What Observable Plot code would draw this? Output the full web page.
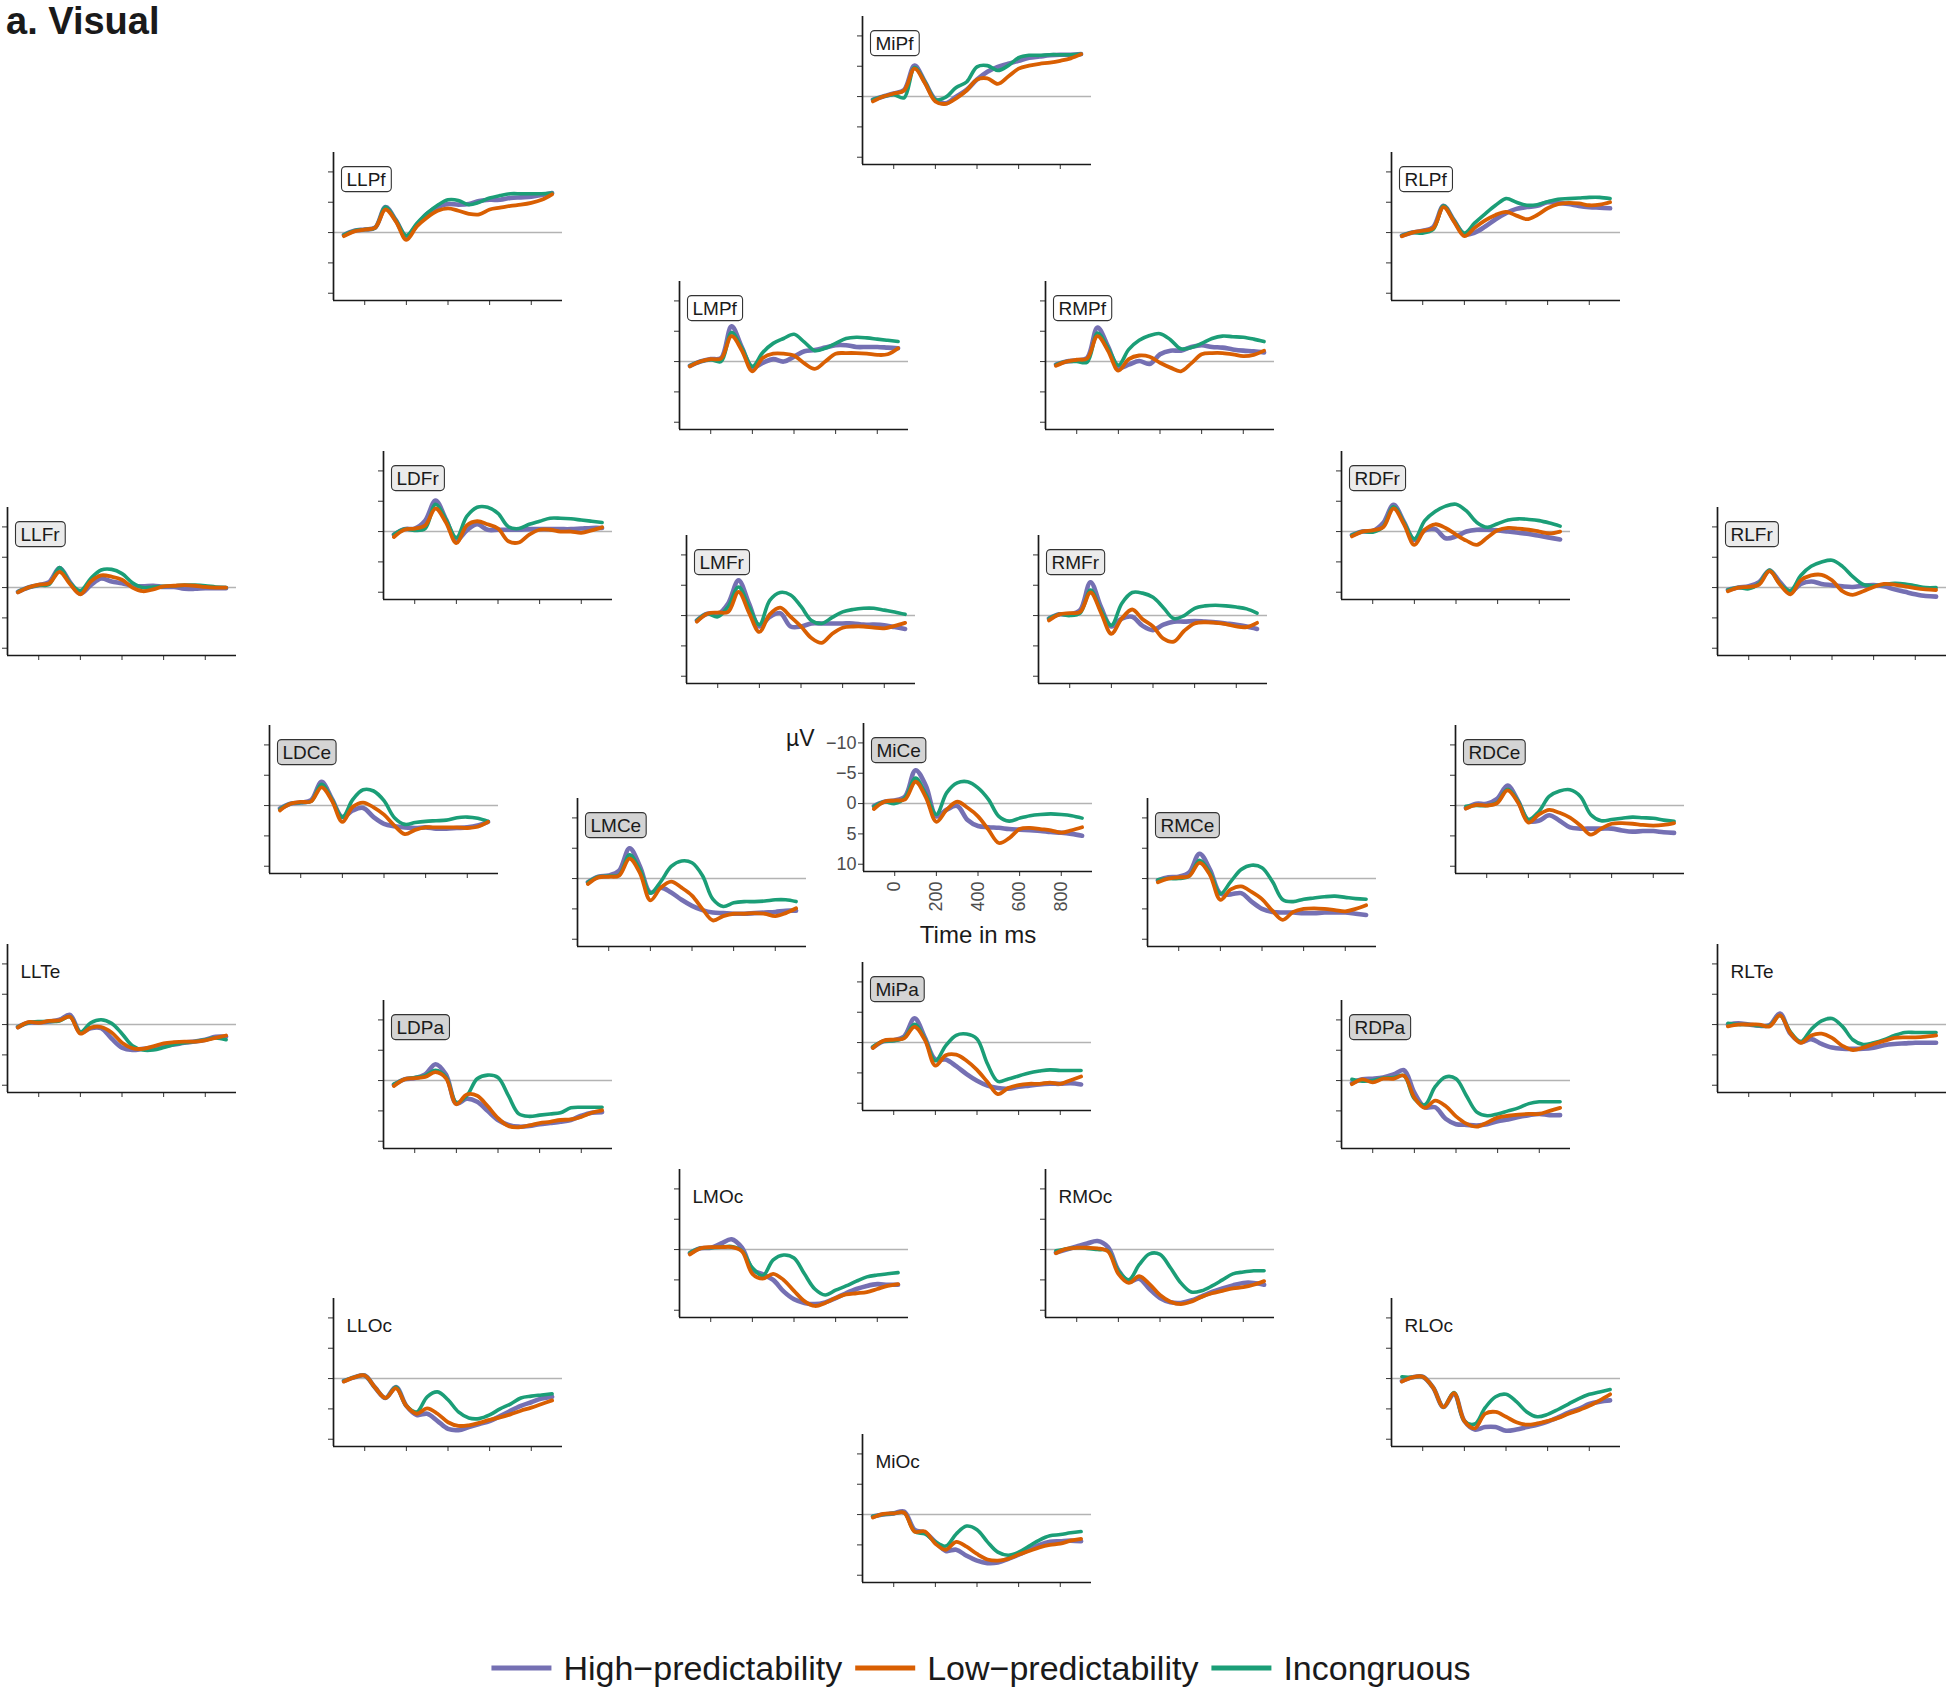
<!DOCTYPE html>
<html>
<head>
<meta charset="utf-8">
<script src="https://cdn.jsdelivr.net/npm/d3@7"></script>
<script src="https://cdn.jsdelivr.net/npm/@observablehq/plot@0.6"></script>
<style>
  html, body { margin: 0; padding: 0; background: #fff; }
  #root { position: relative; width: 1950px; height: 1690px; overflow: hidden; font-family: "Liberation Sans", Arial, Helvetica, sans-serif; }
  .panel { position: absolute; }
  .panel svg { overflow: visible; background: none; max-width: none; }
  #overlay { position: absolute; left: 0; top: 0; }
</style>
</head>
<body>
<div id="root"></div>
<script>
// ---------------- data ----------------
const times = [-100, -50, 0, 50, 100, 150, 200, 250, 300, 350, 400, 450, 500, 550, 600, 650, 700, 750, 800, 850, 900];
const conditions = ["High\u2212predictability", "Low\u2212predictability", "Incongruous"];
const colors = ["#7570B3", "#D95F02", "#1B9E77"];
const yTicks = [-10, -5, 0, 5, 10];
const xTicks = [0, 200, 400, 600, 800];
const titleText = "a. Visual";

// each electrode: [High, Low, Incongruous] in µV at the times above
const MiPf = [
  [0.5, 0, -0.5, -1.1, -5.1, -2.4, 0.5, 1.1, 0, -1.1, -2.8, -4.1, -4.9, -5.4, -5.9, -6.4, -6.6, -6.8, -6.9, -6.9, -7.0],
  [0.8, 0, -0.5, -1.0, -4.6, -2.2, 0.8, 1.2, 0.3, -1.0, -2.8, -3.0, -2.1, -3.3, -4.6, -5.1, -5.4, -5.6, -5.9, -6.3, -7.0],
  [0.5, 0, -0.3, 0.2, -4.8, -2.4, 0.5, 0.1, -1.5, -2.4, -4.9, -5.1, -4.3, -5.1, -6.4, -6.8, -6.8, -6.9, -6.9, -6.9, -7.0]];
const LLPf = [
  [0.4, -0.3, -0.5, -0.8, -4.2, -2.0, 0.7, -1.2, -3.1, -4.2, -4.7, -4.6, -4.7, -5.2, -5.4, -5.4, -5.7, -5.8, -5.9, -6.2, -6.5],
  [0.6, -0.2, -0.5, -0.8, -3.8, -1.8, 1.2, -1.0, -2.5, -3.6, -4.0, -3.6, -3.1, -3.0, -3.8, -4.1, -4.4, -4.6, -4.9, -5.4, -6.3],
  [0.4, -0.3, -0.5, -0.8, -4.2, -2.0, 0.5, -1.5, -3.2, -4.5, -5.4, -5.3, -4.6, -5.0, -5.7, -6.1, -6.4, -6.4, -6.4, -6.4, -6.5]];
const RLPf = [
  [0.5, 0, -0.3, -0.9, -4.4, -2.0, 0.3, 0, -1.0, -2.2, -3.2, -3.9, -4.2, -4.4, -5.0, -4.9, -4.7, -4.4, -4.2, -4.1, -4.0],
  [0.6, 0, -0.3, -0.7, -4.2, -1.8, 0.6, -0.8, -2.0, -2.9, -3.4, -2.8, -2.2, -2.9, -4.0, -4.7, -4.9, -4.8, -4.5, -4.6, -5.0],
  [0.5, 0, 0.1, -0.5, -4.4, -2.0, 0.1, -1.6, -3.1, -4.5, -5.6, -5.0, -4.5, -4.6, -5.1, -5.5, -5.6, -5.7, -5.8, -5.8, -5.6]];
const LMPf = [
  [0.7, 0, -0.4, -0.6, -5.8, -2.3, 1.0, 0.2, -0.4, 0, -0.8, -1.7, -1.9, -2.3, -2.7, -2.7, -2.4, -2.4, -2.4, -2.3, -2.2],
  [0.8, 0, -0.4, -0.5, -4.2, -1.8, 1.6, -0.6, -1.3, -1.3, -1.0, 0.3, 1.2, 0, -1.3, -1.4, -1.4, -1.3, -1.1, -1.2, -2.2],
  [0.7, 0, -0.3, 0, -4.8, -2.2, 0.8, -1.5, -3.0, -3.8, -4.5, -3.2, -1.8, -2.2, -3.0, -3.8, -4.0, -3.9, -3.7, -3.5, -3.3]];
const RMPf = [
  [0.5, 0, -0.2, -0.6, -5.6, -2.5, 1.0, 0.5, -0.1, 0.4, -1.2, -1.8, -1.8, -2.4, -2.7, -2.4, -2.3, -2.0, -1.8, -1.7, -1.5],
  [0.7, 0, -0.3, -0.5, -4.2, -1.8, 1.5, -0.4, -1.0, -0.8, 0.2, 1.0, 1.6, 0.3, -1.2, -1.4, -1.4, -1.2, -0.9, -1.1, -1.8],
  [0.5, 0, 0, 0.1, -4.7, -2.3, 0.6, -2.0, -3.5, -4.3, -4.6, -3.6, -2.1, -2.3, -3.0, -3.8, -4.2, -4.1, -4.0, -3.7, -3.3]];
const LDFr = [
  [0.5, -0.4, -0.5, -1.8, -5.1, -2.0, 1.4, -0.2, -1.2, -0.3, -0.3, -0.3, -0.3, -0.4, -0.4, -0.4, -0.4, -0.4, -0.5, -0.6, -0.6],
  [0.9, -0.3, -0.5, -1.0, -3.8, -1.5, 1.9, -1.0, -1.7, -1.2, -0.5, 1.6, 1.8, 0.5, -0.3, -0.3, 0, 0, 0.2, -0.2, -0.7],
  [0.5, -0.4, -0.2, -0.5, -4.5, -2.0, 1.0, -2.5, -4.0, -4.0, -3.0, -0.8, -0.5, -1.2, -1.7, -2.2, -2.2, -2.1, -1.9, -1.7, -1.5]];
const RDFr = [
  [0.6, 0, -0.1, -1.4, -4.4, -1.6, 1.4, -0.2, -0.4, 1.1, 0.8, 0, -0.3, -0.3, -0.2, 0, 0.2, 0.4, 0.7, 1.0, 1.3],
  [0.8, 0, -0.2, -0.7, -3.8, -1.2, 2.2, -0.3, -1.2, -0.6, 0.5, 1.5, 2.2, 1.0, -0.2, -0.6, -0.5, -0.3, 0, 0.3, 0],
  [0.6, 0, 0.1, -0.8, -4.1, -1.5, 1.2, -1.8, -3.3, -4.2, -4.5, -3.4, -1.5, -0.7, -1.3, -1.9, -2.1, -2.0, -1.8, -1.4, -0.9]];
const LLFr = [
  [0.7, 0, -0.4, -0.9, -3.2, -0.9, 1.0, -0.4, -1.5, -1.0, -0.7, -0.3, -0.2, -0.3, -0.1, -0.1, 0.2, 0.2, 0.1, 0.1, 0.1],
  [0.8, 0, -0.5, -0.7, -2.6, -0.6, 1.1, -1.0, -2.0, -1.8, -1.3, 0, 0.6, 0.3, -0.2, -0.3, -0.4, -0.3, -0.1, 0, 0],
  [0.7, 0, -0.4, -0.5, -3.3, -0.8, 0.5, -1.5, -2.9, -3.0, -2.3, -0.8, 0, -0.1, -0.2, -0.3, -0.4, -0.4, -0.3, -0.1, 0]];
const RLFr = [
  [0.4, 0, -0.2, -0.9, -2.8, -0.9, 0.7, -0.6, -1.0, -0.6, -0.4, -0.2, -0.1, -0.3, -0.4, -0.2, 0.3, 0.7, 1.1, 1.4, 1.5],
  [0.6, 0, -0.1, -0.5, -2.7, -0.5, 1.1, -1.2, -2.0, -2.1, -1.2, 0.6, 1.2, 0.6, -0.1, -0.6, -0.5, -0.2, 0.1, 0.3, 0.4],
  [0.4, 0, 0.2, -0.7, -2.9, -0.6, 0.5, -2.0, -3.5, -4.2, -4.5, -3.5, -1.8, -0.5, -0.3, -0.5, -0.7, -0.6, -0.3, 0, 0]];
const LMFr = [
  [0.8, -0.3, -0.2, -2.0, -5.8, -2.0, 1.8, 0.2, -0.4, 1.8, 1.8, 1.3, 1.3, 1.3, 1.3, 1.3, 1.5, 1.5, 1.6, 1.9, 2.2],
  [1.0, -0.3, -0.5, -0.6, -3.9, -0.5, 2.7, -0.2, -1.3, 0.2, 1.8, 3.7, 4.5, 3.0, 2.0, 1.8, 1.8, 2.0, 2.1, 1.7, 1.2],
  [0.8, -0.3, 0.2, -1.5, -4.7, -1.5, 1.5, -2.5, -3.8, -3.4, -1.5, 0.8, 1.3, 0.3, -0.6, -1.0, -1.2, -1.2, -0.9, -0.6, -0.2]];
const RMFr = [
  [0.5, -0.2, -0.2, -0.9, -5.5, -1.4, 1.8, 0.5, 0.2, 1.7, 2.4, 1.5, 1.0, 1.0, 0.9, 1.0, 1.1, 1.3, 1.5, 1.8, 2.2],
  [0.8, -0.2, -0.4, -0.6, -3.8, -0.5, 3.0, 0.5, -1.0, 0.6, 1.8, 3.8, 4.3, 2.5, 1.3, 1.1, 1.2, 1.4, 1.8, 1.9, 1.2],
  [0.5, -0.2, 0, -0.4, -4.2, -0.9, 1.6, -2.0, -3.8, -3.7, -3.0, -1.3, 0.5, 0, -1.2, -1.6, -1.7, -1.6, -1.4, -1.1, -0.4]];
const LDCe = [
  [0.5, -0.3, -0.5, -0.9, -3.9, -1.1, 1.9, 0.8, 0.4, 1.9, 3.0, 3.4, 3.6, 3.7, 3.6, 3.8, 3.8, 3.7, 3.6, 3.3, 2.7],
  [0.8, -0.3, -0.6, -0.7, -3.0, -0.8, 2.7, 0.2, -0.5, 0.3, 1.5, 3.3, 4.7, 4.0, 3.6, 3.6, 3.6, 3.6, 3.7, 3.5, 2.7],
  [0.6, -0.3, -0.5, -0.7, -3.5, -1.0, 1.9, -1.0, -2.6, -2.4, -0.8, 2.0, 3.1, 2.8, 2.6, 2.5, 2.4, 2.0, 1.9, 2.1, 2.6]];
const RDCe = [
  [0.4, -0.3, -0.3, -1.1, -3.3, -0.8, 2.5, 2.5, 1.6, 2.5, 3.6, 3.8, 3.8, 3.8, 3.8, 4.1, 4.3, 4.2, 4.2, 4.4, 4.5],
  [0.5, -0.1, 0, -0.4, -2.5, -0.5, 2.8, 1.5, 0.7, 1.2, 2.0, 3.3, 4.8, 3.8, 3.0, 2.9, 3.0, 3.2, 3.3, 3.2, 2.9],
  [0.1, 0, 0, -0.5, -2.7, -0.8, 2.3, 1.0, -1.5, -2.4, -2.6, -1.5, 1.5, 2.5, 2.3, 2.1, 1.9, 2.0, 2.1, 2.4, 2.6]];
const LMCe = [
  [0.6, -0.3, -0.5, -1.3, -5.0, -2.0, 2.3, 1.5, 2.3, 3.5, 4.5, 5.2, 5.6, 5.7, 5.8, 5.8, 5.7, 5.6, 5.5, 5.3, 5.3],
  [0.9, -0.2, -0.3, -0.5, -3.3, -0.9, 3.6, 1.5, 0.5, 1.5, 2.8, 5.0, 6.9, 6.2, 5.8, 5.8, 5.7, 5.8, 6.2, 5.7, 4.9],
  [0.6, -0.3, -0.4, -0.6, -3.9, -1.5, 2.4, 0.5, -2.0, -2.9, -2.6, -0.5, 3.4, 4.6, 4.0, 3.8, 3.8, 3.7, 3.5, 3.5, 3.8]];
const RMCe = [
  [0.3, -0.2, -0.3, -1.0, -4.1, -1.5, 2.5, 2.6, 2.4, 3.8, 5.0, 5.5, 5.6, 5.6, 5.7, 5.7, 5.6, 5.6, 5.6, 5.8, 6.0],
  [0.6, 0, -0.2, -0.4, -2.6, -0.6, 3.5, 1.8, 1.3, 2.2, 3.4, 5.3, 6.8, 5.5, 5.0, 4.9, 5.0, 5.2, 5.4, 5.0, 4.4],
  [0.2, 0, 0, -0.4, -3.0, -1.0, 2.5, 0.5, -1.5, -2.2, -1.8, 0.5, 3.5, 3.8, 3.4, 3.2, 3.0, 2.9, 3.1, 3.3, 3.4]];
const MiCe = [
  [0.4, -0.3, -0.5, -1.2, -5.5, -2.9, 2.1, 1.0, 0.4, 2.7, 3.7, 3.9, 4.0, 4.2, 4.3, 4.4, 4.5, 4.7, 4.8, 5.0, 5.3],
  [0.9, -0.3, -0.5, -0.7, -3.6, -1.0, 3.0, 1.0, -0.3, 0.7, 2.1, 4.3, 6.5, 5.7, 4.2, 4.0, 4.2, 4.4, 4.8, 4.4, 3.9],
  [0.5, -0.3, 0, -1.0, -4.2, -1.5, 1.8, -1.8, -3.4, -3.6, -2.6, -0.7, 2.1, 2.9, 2.4, 2.0, 1.8, 1.7, 1.8, 2.0, 2.4]];
const LLTe = [
  [0.4, -0.3, -0.3, -0.5, -0.8, -1.6, 1.3, 0.6, 0.6, 2.3, 3.8, 4.2, 4.0, 3.8, 3.5, 3.3, 3.0, 2.8, 2.5, 2.0, 2.0],
  [0.5, -0.4, -0.3, -0.6, -0.7, -1.3, 1.5, 0.5, 0.4, 1.3, 3.0, 3.9, 4.0, 3.6, 3.1, 2.9, 2.8, 2.8, 2.6, 2.2, 1.8],
  [0.4, -0.3, -0.5, -0.5, -0.6, -1.3, 1.2, -0.3, -0.8, -0.2, 1.5, 3.5, 4.2, 4.2, 3.8, 3.3, 3.0, 2.8, 2.5, 2.2, 2.5]];
const RLTe = [
  [0, -0.2, 0, 0.2, 0.1, -1.8, 1.5, 2.9, 2.4, 3.2, 3.8, 4.0, 4.0, 4.0, 3.8, 3.4, 3.2, 3.1, 3.0, 3.0, 3.0],
  [0.3, 0, 0, 0, 0.3, -1.5, 1.4, 3.0, 1.8, 1.5, 2.2, 3.5, 4.2, 3.8, 3.2, 2.7, 2.2, 2.1, 2.1, 2.0, 1.8],
  [-0.2, 0, 0, 0.2, 0.2, -1.5, 1.2, 2.8, 0.8, -0.6, -1.0, 0.3, 2.5, 3.3, 3.0, 2.5, 1.8, 1.3, 1.3, 1.3, 1.3]];
const LDPa = [
  [0.7, -0.2, -0.4, -1.0, -2.7, -1.0, 3.8, 3.0, 3.5, 5.0, 6.5, 7.3, 7.6, 7.5, 7.2, 7.0, 6.8, 6.5, 5.8, 5.3, 5.2],
  [0.9, -0.2, -0.4, -0.6, -1.4, -0.4, 3.9, 2.3, 2.5, 4.2, 6.2, 7.5, 7.7, 7.4, 7.0, 6.8, 6.5, 6.4, 6.0, 5.3, 4.9],
  [0.6, -0.2, -0.5, -0.8, -1.7, -0.6, 3.6, 2.5, -0.3, -0.9, -0.5, 2.5, 5.5, 5.9, 5.7, 5.5, 5.3, 4.5, 4.4, 4.4, 4.4]];
const RDPa = [
  [0.4, -0.2, -0.3, -0.5, -1.0, -1.7, 2.0, 4.4, 4.4, 6.3, 7.2, 7.3, 7.4, 7.2, 6.7, 6.4, 6.0, 5.7, 5.5, 5.7, 5.7],
  [0.6, -0.2, 0.3, -0.3, -0.3, -0.8, 2.8, 4.5, 3.3, 4.2, 5.9, 7.1, 7.6, 6.9, 6.1, 5.8, 5.6, 5.5, 5.5, 5.0, 4.5],
  [-0.2, 0.1, 0, -0.4, -0.5, -0.8, 3.0, 4.0, 1.0, -0.6, -0.3, 2.5, 5.2, 5.8, 5.5, 5.0, 4.5, 3.8, 3.5, 3.5, 3.5]];
const MiPa = [
  [0.8, -0.2, -0.4, -1.0, -4.0, -0.8, 2.8, 2.8, 3.9, 5.2, 6.3, 7.1, 7.5, 7.6, 7.3, 7.1, 6.9, 6.8, 6.8, 6.7, 6.9],
  [0.9, -0.3, -0.5, -0.7, -2.6, -0.4, 3.8, 2.1, 2.0, 3.0, 4.5, 6.5, 8.5, 7.5, 7.0, 6.8, 6.8, 6.6, 6.8, 6.2, 5.6],
  [0.7, -0.2, -0.3, -0.8, -3.0, -0.6, 3.0, 0.5, -1.2, -1.4, -0.6, 3.5, 6.4, 6.0, 5.5, 5.0, 4.7, 4.5, 4.6, 4.6, 4.6]];
const LMOc = [
  [0.6, -0.2, -0.3, -1.0, -1.7, -0.3, 3.3, 4.1, 5.0, 6.9, 8.2, 8.8, 9.0, 8.7, 8.0, 7.2, 6.5, 6.0, 5.7, 5.8, 5.8],
  [0.8, -0.2, -0.4, -0.4, -0.4, 0.3, 4.0, 4.8, 4.0, 5.0, 6.8, 8.5, 9.3, 8.8, 8.0, 7.4, 7.2, 7.0, 6.5, 6.0, 5.7],
  [0.5, -0.2, -0.3, -0.4, -0.5, 0.2, 3.0, 4.3, 1.7, 0.9, 1.4, 4.0, 6.5, 7.5, 6.7, 6.0, 5.2, 4.5, 4.2, 4.0, 3.8]];
const RMOc = [
  [0.5, 0, -0.5, -1.0, -1.4, -0.4, 3.4, 5.3, 4.8, 6.5, 8.0, 8.7, 8.8, 8.4, 7.7, 7.0, 6.4, 5.9, 5.5, 5.5, 5.8],
  [0.6, -0.1, -0.3, -0.3, -0.2, 0.3, 4.0, 5.5, 4.4, 5.7, 7.5, 8.6, 9.0, 8.6, 7.8, 7.2, 6.8, 6.4, 6.2, 5.8, 5.2],
  [0.2, -0.1, -0.3, -0.2, 0, 0.2, 3.5, 5.0, 2.5, 0.7, 0.8, 3.0, 5.5, 7.0, 6.8, 6.0, 5.0, 4.0, 3.7, 3.5, 3.5]];
const LLOc = [
  [0.4, -0.2, -0.5, 1.5, 3.2, 1.4, 4.5, 6.0, 5.8, 7.0, 8.3, 8.5, 8.0, 7.5, 7.0, 6.2, 5.3, 4.5, 3.9, 3.3, 3.0],
  [0.5, -0.2, -0.5, 1.5, 3.2, 1.6, 4.5, 5.8, 4.9, 5.8, 7.2, 7.8, 7.7, 7.3, 6.8, 6.4, 5.9, 5.3, 4.8, 4.2, 3.6],
  [0.4, -0.2, -0.5, 1.5, 3.2, 1.4, 4.5, 5.5, 3.0, 2.2, 3.5, 5.5, 6.5, 6.6, 6.0, 5.0, 4.2, 3.2, 2.9, 2.7, 2.5]];
const RLOc = [
  [0.4, -0.2, -0.3, 1.5, 4.7, 2.5, 7.0, 8.4, 8.0, 8.0, 8.6, 8.4, 8.0, 7.6, 7.1, 6.4, 5.6, 5.0, 4.2, 3.8, 3.6],
  [0.5, -0.2, -0.3, 1.5, 4.7, 2.4, 7.0, 8.2, 5.8, 5.5, 6.3, 7.2, 7.6, 7.4, 7.0, 6.5, 5.8, 5.2, 4.5, 3.6, 2.6],
  [-0.3, -0.2, -0.3, 1.5, 4.7, 2.3, 7.0, 7.5, 4.8, 3.0, 2.6, 3.8, 5.5, 6.3, 5.9, 5.1, 4.2, 3.3, 2.6, 2.2, 1.8]];
const MiOc = [
  [0.3, 0, -0.2, -0.5, 2.5, 3.0, 4.5, 6.0, 5.8, 6.8, 7.6, 8.0, 7.9, 7.3, 6.6, 5.8, 5.0, 4.5, 4.4, 4.3, 4.4],
  [0.5, -0.1, -0.2, -0.3, 2.8, 2.8, 4.8, 5.8, 4.5, 5.3, 6.5, 7.4, 7.6, 7.3, 6.6, 6.0, 5.4, 5.0, 4.8, 4.3, 4.0],
  [0.3, 0, -0.2, -0.3, 2.8, 3.2, 4.5, 5.2, 3.2, 1.9, 2.5, 4.5, 6.2, 6.7, 6.2, 5.2, 4.2, 3.5, 3.3, 3.0, 2.8]];

const electrodes = ["MiPf", "LLPf", "RLPf", "LMPf", "RMPf", "LDFr", "RDFr", "LLFr", "RLFr", "LMFr", "RMFr",
  "LDCe", "RDCe", "LMCe", "RMCe", "MiCe", "LLTe", "RLTe", "LDPa", "RDPa", "MiPa", "LMOc", "RMOc", "LLOc", "RLOc", "MiOc"];

// ---------------- layout (plot-area left edge and bottom edge, px) ----------------
const panelLeft = [862, 333, 1391, 679, 1045, 383, 1341, 7, 1717, 686, 1038,
  269, 1455, 577, 1147, 863, 7, 1717, 383, 1341, 862, 679, 1045, 333, 1391, 862];
const panelBottom = [164, 300, 300, 429, 429, 599, 599, 655, 655, 683, 683,
  873, 873, 946, 946, 871, 1092, 1092, 1148, 1148, 1110, 1317, 1317, 1446, 1446, 1582];

const seriesByName = {MiPf, LLPf, RLPf, LMPf, RMPf, LDFr, RDFr, LLFr, RLFr, LMFr, RMFr,
  LDCe, RDCe, LMCe, RMCe, MiCe, LLTe, RLTe, LDPa, RDPa, MiPa, LMOc, RMOc, LLOc, RLOc, MiOc};

// ---------------- drawing ----------------
const W = 229, H = 148;
const M = {l: 70, r: 14, t: 14, b: 100};
const xDomain = [-150, 950];
const yDomain = [-13.2, 11.2];
const FONT = "'Liberation Sans', Arial, Helvetica, sans-serif";
const fmtY = d => d < 0 ? "\u2212" + Math.abs(d) : String(d);
const drawOrder = [0, 2, 1];
const widths = [4.6, 3.8, 3.6];

function labelFill(name) {
  if (name.endsWith("Pf")) return "#ffffff";
  if (name.endsWith("Fr")) return "#ebebeb";
  if (name.endsWith("Ce") || name.endsWith("Pa")) return "#d4d4d4";
  return null;
}

const root = document.getElementById("root");

electrodes.forEach((name, idx) => {
  const vals = seriesByName[name];
  const isKey = name === "MiCe";
  const lineMarks = drawOrder.map(ci => {
    const rows = vals[ci].map((v, k) => ({t: times[k], v, cond: conditions[ci]}));
    return Plot.line(rows, {x: "t", y: "v", stroke: "cond", strokeWidth: widths[ci], curve: "catmull-rom", strokeLinejoin: "round", strokeLinecap: "round"});
  });
  const marks = [
    Plot.ruleY([0], {stroke: "#b3b3b3", strokeWidth: 1.6}),
    Plot.axisY({ticks: yTicks, tickSize: 5, tickPadding: 2, tickFormat: isKey ? fmtY : () => "", label: null, stroke: "#333", fill: "#4d4d4d", fontSize: 18}),
    Plot.axisX({ticks: xTicks, tickSize: 5, tickPadding: 5, tickRotate: -90, tickFormat: isKey ? d => String(d) : () => "", label: null, stroke: "#333", fill: "#4d4d4d", fontSize: 18}),
    Plot.ruleX([xDomain[0]], {stroke: "#1a1a1a", strokeWidth: 1.7}),
    Plot.ruleY([yDomain[1]], {stroke: "#1a1a1a", strokeWidth: 1.7}),
    ...lineMarks,
    Plot.text([name], {frameAnchor: "top-left", dx: 13, dy: 27, textAnchor: "start", lineAnchor: "middle", fontSize: 19, fill: "#1a1a1a"})
  ];
  if (isKey) {
    marks.push(
      Plot.text(["\u00b5V"], {frameAnchor: "top-left", dx: -49, dy: 22, textAnchor: "end", lineAnchor: "bottom", fontSize: 23, fill: "#1a1a1a"}),
      Plot.text(["Time in ms"], {frameAnchor: "bottom", dy: 71, lineAnchor: "bottom", fontSize: 24, fill: "#1a1a1a"})
    );
  }
  const svg = Plot.plot({
    width: W + M.l + M.r, height: H + M.t + M.b,
    marginLeft: M.l, marginRight: M.r, marginTop: M.t, marginBottom: M.b,
    x: {domain: xDomain},
    y: {domain: yDomain, reverse: true},
    color: {domain: conditions, range: colors},
    style: {background: "none", overflow: "visible", fontFamily: FONT, maxWidth: "none"},
    marks
  });
  const div = document.createElement("div");
  div.className = "panel";
  div.style.left = (panelLeft[idx] - M.l) + "px";
  div.style.top = (panelBottom[idx] - H - M.t) + "px";
  div.appendChild(svg);
  root.appendChild(div);

  // rounded box behind the electrode label
  const fill = labelFill(name);
  if (fill) {
    const t = Array.from(svg.querySelectorAll("text")).find(el => el.textContent === name);
    if (t) {
      const bb = t.getBBox();
      const rect = document.createElementNS("http://www.w3.org/2000/svg", "rect");
      rect.setAttribute("x", bb.x - 5);
      rect.setAttribute("y", bb.y - 2);
      rect.setAttribute("width", bb.width + 10);
      rect.setAttribute("height", bb.height + 4);
      rect.setAttribute("rx", 4);
      rect.setAttribute("fill", fill);
      rect.setAttribute("stroke", "#333");
      rect.setAttribute("stroke-width", 1.1);
      const tr = t.getAttribute("transform");
      if (tr) rect.setAttribute("transform", tr);
      t.parentNode.insertBefore(rect, t);
    }
  }
});

// ---------------- title and legend ----------------
const overlay = d3.select(root).append("svg")
  .attr("id", "overlay").attr("width", 1950).attr("height", 1690)
  .style("font-family", FONT);
overlay.append("text").attr("x", 6).attr("y", 34)
  .attr("font-size", 38).attr("font-weight", "bold").attr("fill", "#1a1a1a").text(titleText);

const legY = 1668;
const leg = overlay.append("g");
let cx = 0;
conditions.forEach((c, i) => {
  const g = leg.append("g").attr("transform", `translate(${cx},0)`);
  g.append("line").attr("x1", 0).attr("x2", 60).attr("y1", legY).attr("y2", legY)
    .attr("stroke", colors[i]).attr("stroke-width", 5);
  const tx = g.append("text").attr("x", 72).attr("y", legY + 12).attr("font-size", 34).attr("fill", "#1a1a1a").text(c);
  cx += 72 + tx.node().getComputedTextLength() + 13;
});
const legW = cx - 13;
leg.attr("transform", `translate(${(1950 - legW) / 2 + 6},0)`);
</script>
</body>
</html>
